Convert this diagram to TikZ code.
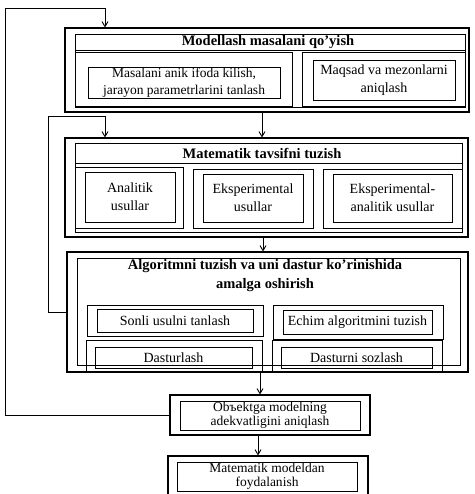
\documentclass[tikz,border=0pt]{standalone}
\usepackage{fontspec}
\setmainfont{Liberation Serif}
\usetikzlibrary{fit,arrows.meta}
\tikzset{
  outerbox/.style={draw, line width=1.1pt, inner sep=0pt},
  framebox/.style={draw, line width=0.8pt, inner sep=0pt},
  subbox/.style={draw, line width=0.9pt, inner sep=0pt},
  txtbox/.style={draw, line width=0.6pt, inner sep=0pt},
  txt/.style={font=\fontsize{14}{18}\selectfont, align=center, inner sep=0pt},
  smalltxt/.style={font=\fontsize{13.5}{14.5}\selectfont, align=center, inner sep=0pt},
  ttl/.style={font=\fontsize{14.5}{19}\selectfont\bfseries, align=center, inner sep=0pt},
  arr/.style={line width=0.9pt, -{Straight Barb[length=5pt,width=6pt]}}
}
\begin{document}
\begin{tikzpicture}[x=1pt,y=-1pt]
\useasboundingbox (0,0) rectangle (474,494);
% ---------- stage 1
\node[outerbox, fit={(65,28)(469,112)}] (s1) {};
\node[framebox, fit={(75,34)(465,107)}] (f1) {};
\coordinate (d1a) at (75,50); \coordinate (d1b) at (465,50);
\draw[framebox] (d1a) -- (d1b);
\node[ttl] (t1) at (268,42) {Modellash masalani qo'yish};
\node[subbox, fit={(75,52)(292,106)}] (b11) {};
\node[txtbox, fit={(88,67)(280,98)}] (i11) {};
\node[txt, font=\fontsize{13.5}{17}\selectfont] (x11) at (i11.center) {Masalani anik ifoda kilish,\\jarayon parametrlarini tanlash};
\node[subbox, fit={(302,52)(465,106)}] (b12) {};
\node[txtbox, fit={(313,60)(455,100)}] (i12) {};
\node[txt] (x12) at (i12.center) {Maqsad va mezonlarni\\aniqlash};
% ---------- stage 2
\node[outerbox, fit={(65,138)(468,237)}] (s2) {};
\node[framebox, fit={(75,143)(462,232)}] (f2) {};
\coordinate (d2a) at (75,163); \coordinate (d2b) at (462,163);
\draw[framebox] (d2a) -- (d2b);
\node[ttl] (t2) at (262,153) {Matematik tavsifni tuzish};
\node[subbox, fit={(75,167)(183,228)}] (b21) {};
\node[txtbox, fit={(85,172)(175,222)}] (i21) {};
\node[txt] (x21) at (i21.center) {Analitik\\usullar};
\node[subbox, fit={(193,169)(313,228)}] (b22) {};
\node[txtbox, fit={(203,174)(303,222)}] (i22) {};
\node[txt] (x22) at (i22.center) {Eksperimental\\usullar};
\node[subbox, fit={(323,169)(462,228)}] (b23) {};
\node[txtbox, fit={(333,174)(452,222)}] (i23) {};
\node[txt] (x23) at (i23.center) {Eksperimental-\\analitik usullar};
% ---------- stage 3
\node[outerbox, fit={(67,252)(468,372)}] (s3) {};
\node[framebox, fit={(77,258)(460,365)}] (f3) {};
\node[ttl] (t3) at (265,276) {Algoritmni tuzish va uni dastur ko'rinishida\\amalga oshirish};
\node[subbox, fit={(87,305)(263,336)}] (b31) {};
\node[txtbox, fit={(97,309)(253,332)}] (i31) {};
\node[txt] (x31) at (i31.center) {Sonli usulni tanlash};
\node[subbox, fit={(273,305)(443,339)}] (b32) {};
\node[txtbox, fit={(283,310)(432,334)}] (i32) {};
\node[txt] (x32) at (i32.center) {Echim algoritmini tuzish};
\node[subbox, fit={(86,340)(262,372)}] (b33) {};
\node[txtbox, fit={(95,347)(252,368)}] (i33) {};
\node[txt] (x33) at (i33.center) {Dasturlash};
\node[subbox, fit={(272,340)(442,372)}] (b34) {};
\node[txtbox, fit={(281,347)(432,368)}] (i34) {};
\node[txt] (x34) at (i34.center) {Dasturni sozlash};
% ---------- stage 4
\node[outerbox, fit={(170,395)(370,435)}] (s4) {};
\node[txtbox, fit={(180,401)(360,430)}] (i4) {};
\node[smalltxt] (x4) at (i4.center) {Obъektga modelning\\adekvatligini aniqlash};
% ---------- stage 5
\node[outerbox, fit={(168,456)(368,497)}] (s5) {};
\node[txtbox, fit={(177,462)(357,491)}] (i5) {};
\node[smalltxt] (x5) at (i5.center) {Matematik modeldan\\foydalanish};
% ---------- connectors
\coordinate (a12) at (262,112);
\draw[arr] (a12) -- (a12 |- s2.north);
\coordinate (a23) at (263,237);
\draw[arr] (a23) -- (a23 |- s3.north);
\coordinate (a34) at (260,372);
\draw[arr] (a34) -- (a34 |- s4.north);
\coordinate (a45) at (258,435);
\draw[arr] (a45) -- (a45 |- s5.north);
% feedback loop from stage 4 to stage 1
\coordinate (fa) at (5,8);
\coordinate (fb) at (105,8);
\draw[arr] (s4.west) -| (fa) -- (fb) -- (fb |- s1.north);
% feedback loop from stage 3 to stage 2
\coordinate (ga) at (48,116);
\coordinate (gb) at (105,116);
\draw[arr] (s3.west) -| (ga) -- (gb) -- (gb |- s2.north);
\end{tikzpicture}
\end{document}
